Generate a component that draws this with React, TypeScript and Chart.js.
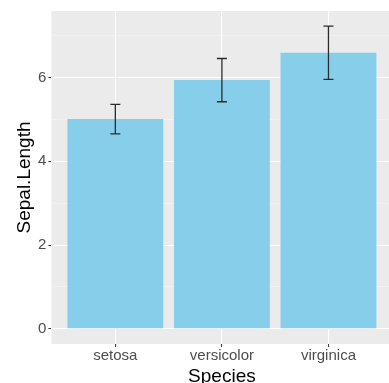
import React, { useEffect, useRef } from "react";
import { Chart, registerables } from "chart.js";

Chart.register(...registerables);

const species = ["setosa", "versicolor", "virginica"];
const speciesPos = [1, 2, 3];
const sepalMean = [5.006, 5.936, 6.588];
const errLow = [4.654, 5.42, 5.952];
const errHigh = [5.358, 6.452, 7.224];
const yMajorTicks = [0, 2, 4, 6];
const yMinorTicks = [1, 3, 5, 7];
const xTitle = "Species";
const yTitle = "Sepal.Length";

const FONT = "'Liberation Sans', Arial, Helvetica, sans-serif";

const panelBg = {
  id: "panelBg",
  beforeDraw(chart: any) {
    const { ctx, chartArea: a } = chart;
    ctx.save();
    ctx.fillStyle = "#EBEBEB";
    ctx.fillRect(a.left, a.top, a.right - a.left, a.bottom - a.top);
    ctx.restore();
  },
};

const errorBars = {
  id: "errorBars",
  afterDatasetsDraw(chart: any) {
    const { ctx } = chart;
    const xs = chart.scales.x;
    const ys = chart.scales.y;
    ctx.save();
    ctx.strokeStyle = "#2B2B2B";
    ctx.lineWidth = 1.3;
    const half = 0.047;
    speciesPos.forEach((p, i) => {
      const x = xs.getPixelForValue(p);
      const x0 = xs.getPixelForValue(p - half);
      const x1 = xs.getPixelForValue(p + half);
      const yl = ys.getPixelForValue(errLow[i]);
      const yh = ys.getPixelForValue(errHigh[i]);
      ctx.beginPath();
      ctx.moveTo(x, yl);
      ctx.lineTo(x, yh);
      ctx.moveTo(x0, yl);
      ctx.lineTo(x1, yl);
      ctx.moveTo(x0, yh);
      ctx.lineTo(x1, yh);
      ctx.stroke();
    });
    ctx.restore();
  },
};

export default function App() {
  const ref = useRef<HTMLCanvasElement>(null);
  useEffect(() => {
    if (!ref.current) return;
    const chart = new Chart(ref.current, {
      type: "bar",
      data: {
        datasets: [
          {
            data: speciesPos.map((p, i) => ({ x: p, y: sepalMean[i] })),
            backgroundColor: "#87CEEB",
            borderWidth: 0,
            barPercentage: 0.9,
            categoryPercentage: 1,
          },
        ],
      },
      options: {
        responsive: false,
        animation: false,
        devicePixelRatio: 1,
        layout: { padding: { left: 0, top: 11, right: 7.6, bottom: 0 } },
        plugins: { legend: { display: false }, tooltip: { enabled: false } },
        scales: {
          x: {
            type: "linear",
            min: 0.4,
            max: 3.6,
            offset: false,
            afterBuildTicks: (s: any) => {
              s.ticks = speciesPos.map((v) => ({ value: v }));
            },
            afterFit: (s: any) => {
              s.height = 39;
              s.paddingLeft = 0;
              s.paddingRight = 0;
            },
            border: { display: false },
            grid: {
              offset: false,
              color: "#FFFFFF",
              lineWidth: 1.1,
              tickColor: "#333333",
              tickLength: 3,
              tickWidth: 1,
            },
            ticks: {
              padding: 0,
              maxRotation: 0,
              autoSkip: false,
              color: "#4D4D4D",
              font: { family: FONT, size: 15 },
              callback: (v: any) => species[speciesPos.indexOf(Number(v))] ?? "",
            },
            title: {
              display: true,
              text: xTitle,
              color: "#000000",
              font: { family: FONT, size: 19, lineHeight: 1 },
              padding: { top: 0, bottom: -3 },
            },
          },
          y: {
            type: "linear",
            min: -0.361,
            max: 7.585,
            afterBuildTicks: (s: any) => {
              s.ticks = [...yMajorTicks, ...yMinorTicks]
                .sort((a, b) => a - b)
                .map((v) => ({ value: v }));
            },
            afterFit: (s: any) => {
              s.width = 51.4;
            },
            border: { display: false },
            grid: {
              color: (c: any) =>
                yMajorTicks.includes(c.tick?.value) ? "#FFFFFF" : "#F6F6F6",
              lineWidth: (c: any) =>
                yMajorTicks.includes(c.tick?.value) ? 1.1 : 0.6,
              tickColor: (c: any) =>
                yMajorTicks.includes(c.tick?.value) ? "#333333" : "rgba(0,0,0,0)",
              tickLength: 3,
              tickWidth: 1,
            },
            ticks: {
              padding: 2,
              autoSkip: false,
              color: "#4D4D4D",
              font: { family: FONT, size: 15 },
              callback: (v: any) =>
                yMajorTicks.includes(Number(v)) ? String(v) : "",
            },
            title: {
              display: true,
              text: yTitle,
              color: "#000000",
              font: { family: FONT, size: 19, lineHeight: 1 },
              padding: { top: 15.5, bottom: 0 },
            },
          },
        },
      } as any,
      plugins: [panelBg, errorBars],
    });
    return () => chart.destroy();
  }, []);
  return (
    <div
      style={{
        position: "fixed",
        left: 0,
        top: 0,
        width: 389,
        height: 383,
        overflow: "hidden",
        background: "#FFFFFF",
      }}
    >
      <canvas ref={ref} width={400} height={383} style={{ display: "block" }} />
    </div>
  );
}
